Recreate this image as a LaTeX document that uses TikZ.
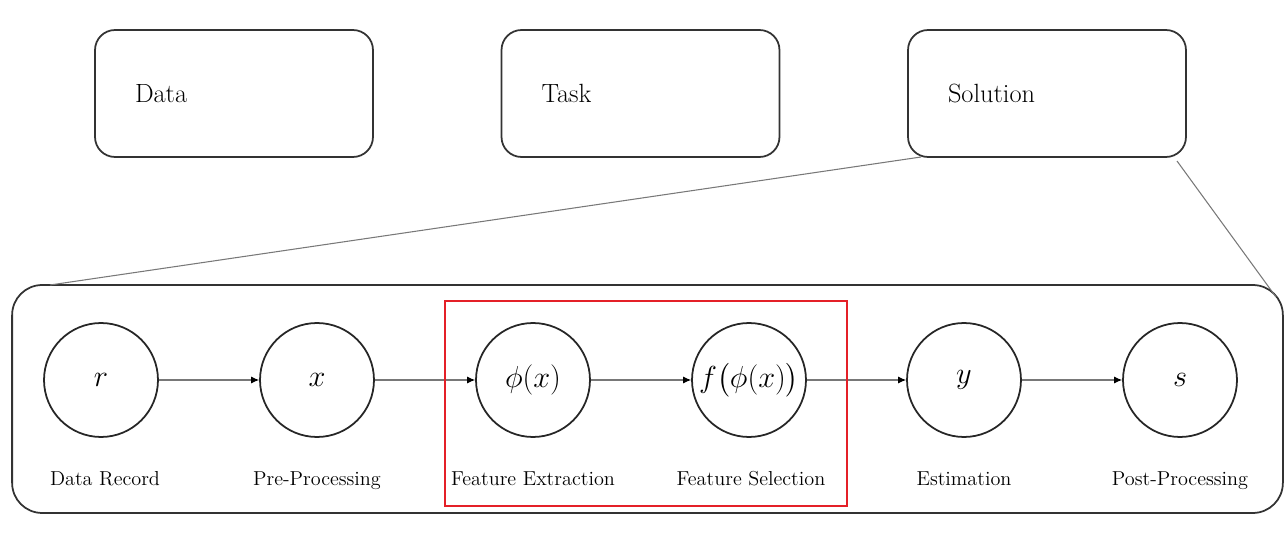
\documentclass[tikz,border=0pt]{standalone}
\usepackage{amsmath,amssymb}
\usepackage{xcolor}
\usepackage{tikz}
\usetikzlibrary{positioning,calc,arrows.meta}
\definecolor{zoomred}{RGB}{228,32,40}
\definecolor{edgegray}{RGB}{120,120,120}

\begin{document}
\begin{tikzpicture}[x=0.02cm,y=-0.02cm,
    top block/.style={draw=black!80, line width=1pt, rounded corners=0.4cm, minimum height=2.54cm, text width=3.96cm, inner xsep=0.8cm, align=left, font=\fontsize{15}{18}\selectfont},
    stage/.style={circle, draw=black!85, line width=1pt, minimum size=2.28cm, inner sep=0pt, font=\fontsize{16}{19}\selectfont},
    stage label/.style={anchor=base, font=\fontsize{11.5}{14}\selectfont},
    flow/.style={draw=edgegray, line width=0.6pt, -{Latex[length=4.5pt,width=4pt,black]}},
    zoom line/.style={draw=edgegray, line width=0.6pt}]
    % frame of the page
    \useasboundingbox (0,0) rectangle (1286,547);

    % Top level blocks
    \node[top block] (data) at (234,93.5) {Data};
    \node[top block] (task) at (640.5,93.5) {Task};
    \node[top block] (solution) at (1047,93.5) {Solution};

    % Pipeline container (zoom of the solution block)
    \node[draw=black!80, line width=1pt, rounded corners=0.6cm, minimum width=25.42cm, minimum height=4.56cm] (pipeline) at (647.5,399) {};
    \coordinate (zoomLa) at (921,157);
    \coordinate (zoomLb) at (50,285);
    \coordinate (zoomRa) at (1177,161);
    \coordinate (zoomRb) at (1276,297);
    \draw[zoom line] (zoomLa) -- (zoomLb);
    \draw[zoom line] (zoomRa) -- (zoomRb);

    % Pipeline stages
    \node[stage] (r) at (101,380) {$r$};
    \node[stage] (x) at (317,380) {$x$};
    \node[stage] (phi) at (533,380) {$\phi(x)$};
    \node[stage] (f) at (749,380) {$f\bigl(\phi(x)\bigr)$};
    \node[stage] (y) at (964,380) {$y$};
    \node[stage] (s) at (1180,380) {$s$};

    % Stage names
    \node[stage label] (rlabel) at (105,485) {Data Record};
    \node[stage label] (xlabel) at (317,485) {Pre-Processing};
    \node[stage label] (philabel) at (533,485) {Feature Extraction};
    \node[stage label] (flabel) at (751,485) {Feature Selection};
    \node[stage label] (ylabel) at (964,485) {Estimation};
    \node[stage label] (slabel) at (1180,485) {Post-Processing};

    % Connections
    \draw[flow] (r) -- (x);
    \draw[flow] (x) -- (phi);
    \draw[flow] (phi) -- (f);
    \draw[flow] (f) -- (y);
    \draw[flow] (y) -- (s);

    % Highlight of the feature stages
    \node[draw=zoomred, line width=1.4pt, minimum width=8.04cm, minimum height=4.1cm] (highlight) at (646,403.5) {};

\end{tikzpicture}
\end{document}
